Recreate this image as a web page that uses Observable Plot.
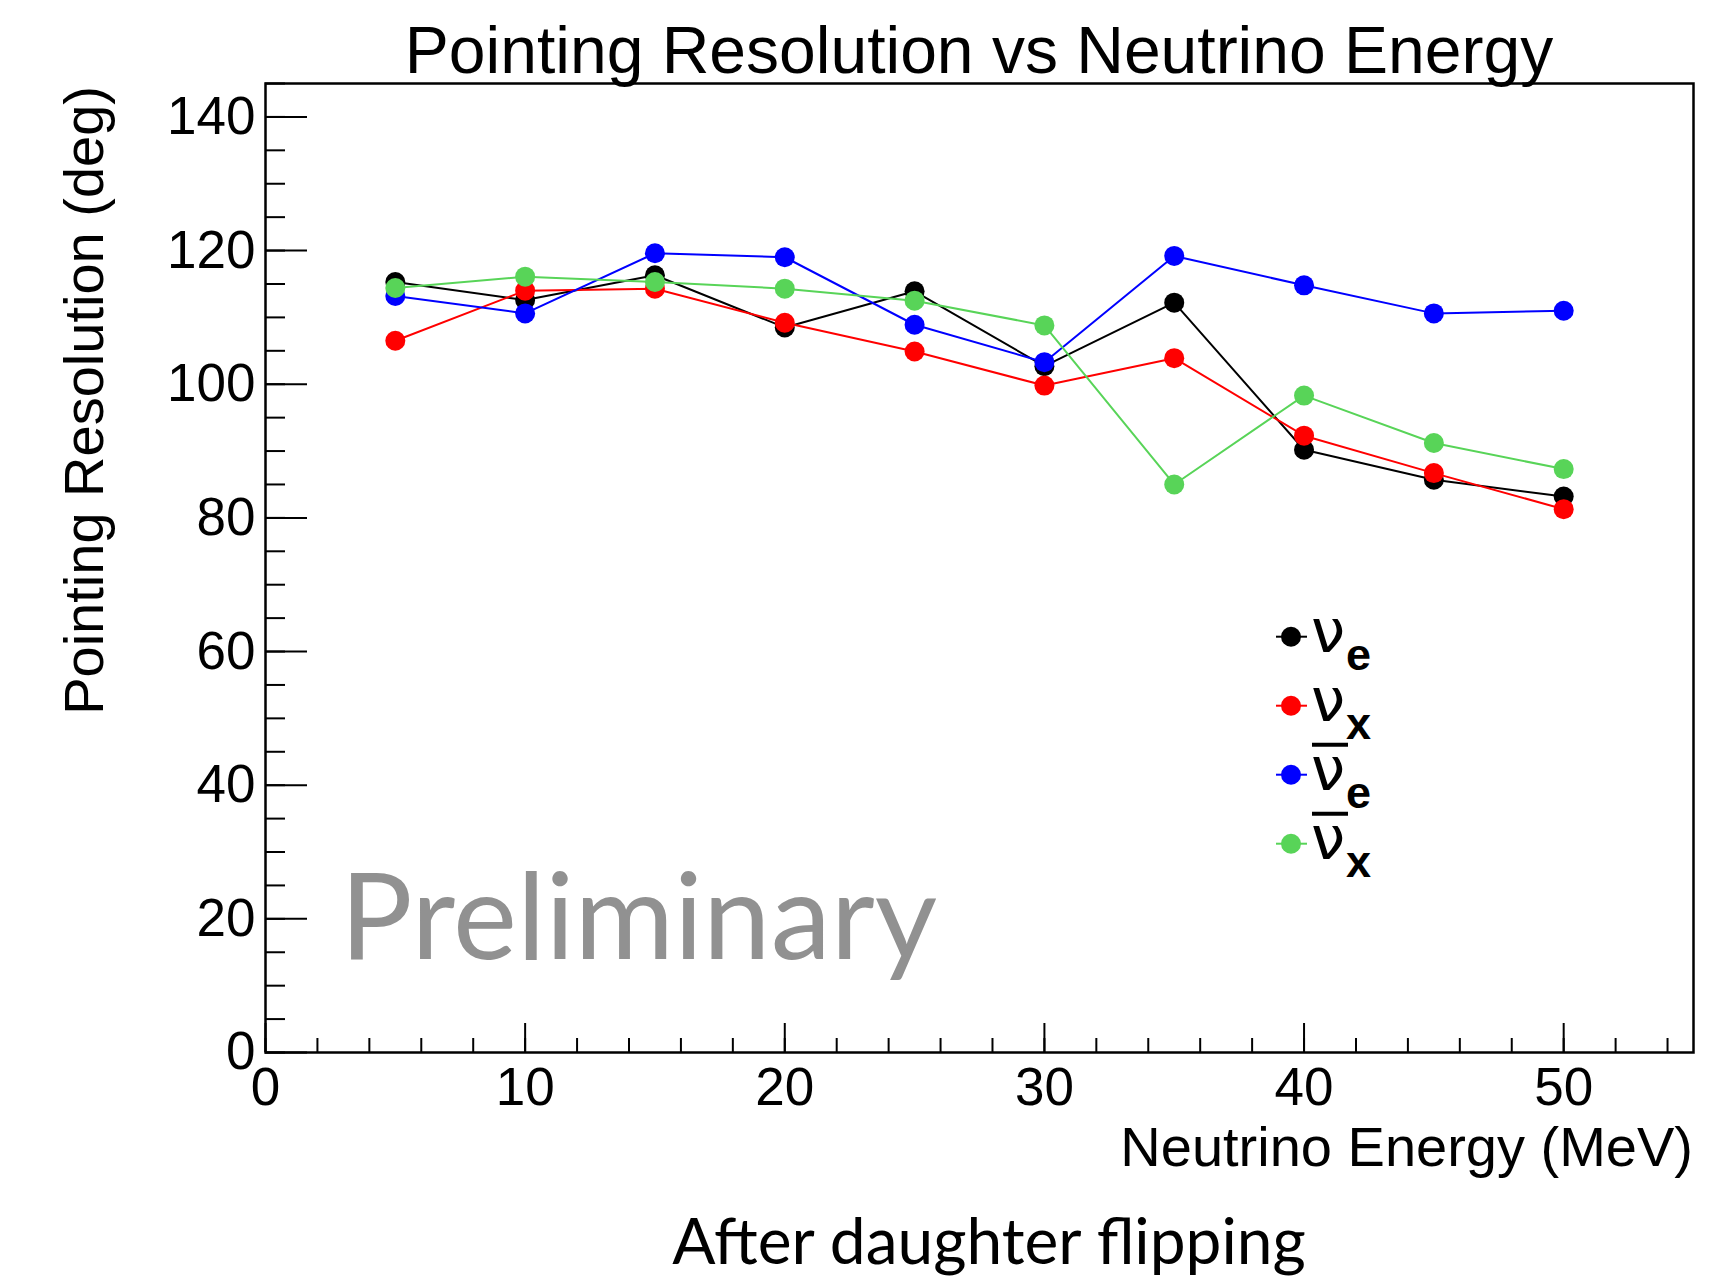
<!DOCTYPE html>
<html><head><meta charset="utf-8">
<script src="https://cdn.jsdelivr.net/npm/d3@7"></script>
<script src="https://cdn.jsdelivr.net/npm/@observablehq/plot@0.6"></script>
<style>
body{margin:0;background:#fff;}
#wrap{position:relative;width:1716px;height:1280px;overflow:hidden;background:#fff;}
#wrap > svg{position:absolute;left:0;top:0;}
</style></head><body><div id="wrap"></div>
<script>
// ---- data ----
const energies = [5, 10, 15, 20, 25, 30, 35, 40, 45, 50];
const nuE    = [115.3, 112.6, 116.3, 108.5, 113.9, 102.7, 112.2, 90.2, 85.7, 83.2];
const nuX    = [106.5, 114.0, 114.3, 109.2, 104.9, 99.8, 103.9, 92.3, 86.7, 81.3];
const nuEbar = [113.2, 110.6, 119.6, 119.0, 108.9, 103.3, 119.2, 114.8, 110.6, 111.0];
const nuXbar = [114.4, 116.1, 115.3, 114.3, 112.5, 108.8, 85.0, 98.3, 91.2, 87.3];
const seriesKeys = ["nuE", "nuX", "nuEbar", "nuXbar"];
const seriesColors = ["#000000", "#ff0000", "#0000ff", "#58d458"];
const seriesSub = ["e", "x", "e", "x"];
const seriesBar = [false, false, true, true];
const xTicks = [0, 10, 20, 30, 40, 50];
const yTicks = [0, 20, 40, 60, 80, 100, 120, 140];
const xMinorTicks = d3.range(0, 55, 2);
const yMinorTicks = d3.range(0, 146, 5);
const titleText = "Pointing Resolution vs Neutrino Energy";
const xLabel = "Neutrino Energy (MeV)";
const yLabel = "Pointing Resolution (deg)";
const caption = "After daughter flipping";
const watermark = "Preliminary";

const values = [nuE, nuX, nuEbar, nuXbar];
const rows = seriesKeys.map((k, i) => energies.map((e, j) => ({series: k, energy: e, res: values[i][j]})));

// ---- layout ----
const W = 1716, H = 1200;
const mL = 265, mR = 23, mT = 83, mB = 148;
const fw = W - mL - mR, fh = H - mT - mB;

const marks = [];
rows.forEach((r, i) => {
  marks.push(Plot.line(r, {x: "energy", y: "res", stroke: seriesColors[i], strokeWidth: 2}));
  marks.push(Plot.dot(r, {x: "energy", y: "res", r: 10, fill: seriesColors[i], stroke: "none"}));
});

const chart = Plot.plot({
  width: W, height: H,
  marginLeft: mL, marginRight: mR, marginTop: mT, marginBottom: mB,
  x: {domain: [0, 55]},
  y: {domain: [0, 145]},
  style: {fontFamily: "'Liberation Sans', Arial, sans-serif", color: "#000", background: "#fff"},
  marks: [
    Plot.tickX(xMinorTicks, {x: d => d, insetTop: fh - 14, stroke: "#000", strokeWidth: 2}),
    Plot.tickX(xTicks, {x: d => d, insetTop: fh - 29, stroke: "#000", strokeWidth: 2}),
    Plot.tickY(yMinorTicks, {y: d => d, insetRight: fw - 20, stroke: "#000", strokeWidth: 2}),
    Plot.tickY(yTicks, {y: d => d, insetRight: fw - 42, stroke: "#000", strokeWidth: 2}),
    Plot.axisX(xTicks, {tickSize: 0, tickPadding: 15, fontSize: 53, label: null}),
    Plot.axisY(yTicks, {tickSize: 0, tickPadding: 10, fontSize: 53, label: null}),
    ...marks,
    Plot.frame({stroke: "#000", strokeWidth: 2.5})
  ]
});
const wrap = document.getElementById("wrap");
wrap.appendChild(chart);

// ---- overlay text (titles, watermark, caption, legend) ----
const ov = d3.select(wrap).append("svg")
  .attr("width", 1716).attr("height", 1280)
  .style("pointer-events", "none");
const sans = "'Liberation Sans', Arial, sans-serif";

ov.append("text").text(titleText)
  .attr("x", mL + fw / 2).attr("y", 73).attr("text-anchor", "middle")
  .attr("font-family", sans).attr("font-size", 66).attr("fill", "#000");

ov.append("text").text(xLabel)
  .attr("x", mL + fw).attr("y", 1166).attr("text-anchor", "end")
  .attr("font-family", sans).attr("font-size", 56).attr("fill", "#000");

ov.append("text").text(yLabel)
  .attr("transform", "translate(103,86) rotate(-90)").attr("text-anchor", "end")
  .attr("font-family", sans).attr("font-size", 56).attr("fill", "#000");

ov.append("text").text(watermark)
  .attr("x", 340).attr("y", 959)
  .attr("font-family", "Lato, 'Open Sans', sans-serif").attr("font-size", 121).attr("fill", "#919191");

ov.append("text").text(caption)
  .attr("x", 989).attr("y", 1264).attr("text-anchor", "middle")
  .attr("font-family", "Lato, 'Open Sans', sans-serif").attr("font-size", 64).attr("fill", "#000");

// legend
seriesKeys.forEach((k, i) => {
  const cy = 636.7 + 69 * i;
  const g = ov.append("g");
  g.append("line").attr("x1", 1276).attr("x2", 1307).attr("y1", cy).attr("y2", cy)
    .attr("stroke", seriesColors[i]).attr("stroke-width", 2);
  g.append("circle").attr("cx", 1291).attr("cy", cy).attr("r", 10).attr("fill", seriesColors[i]);
  const t = g.append("text").attr("x", 1311).attr("y", cy + 15.5).attr("fill", "#000");
  t.append("tspan").attr("font-family", "'DejaVu Sans', sans-serif").attr("font-size", 61).text("\u03bd");
  t.append("tspan").attr("font-family", sans).attr("font-size", 45).attr("font-weight", "bold")
    .attr("dy", 18).attr("dx", 1).text(seriesSub[i]);
  if (seriesBar[i]) {
    g.append("line").attr("x1", 1312).attr("x2", 1348).attr("y1", cy - 30).attr("y2", cy - 30)
      .attr("stroke", "#000").attr("stroke-width", 4);
  }
});
</script></body></html>
